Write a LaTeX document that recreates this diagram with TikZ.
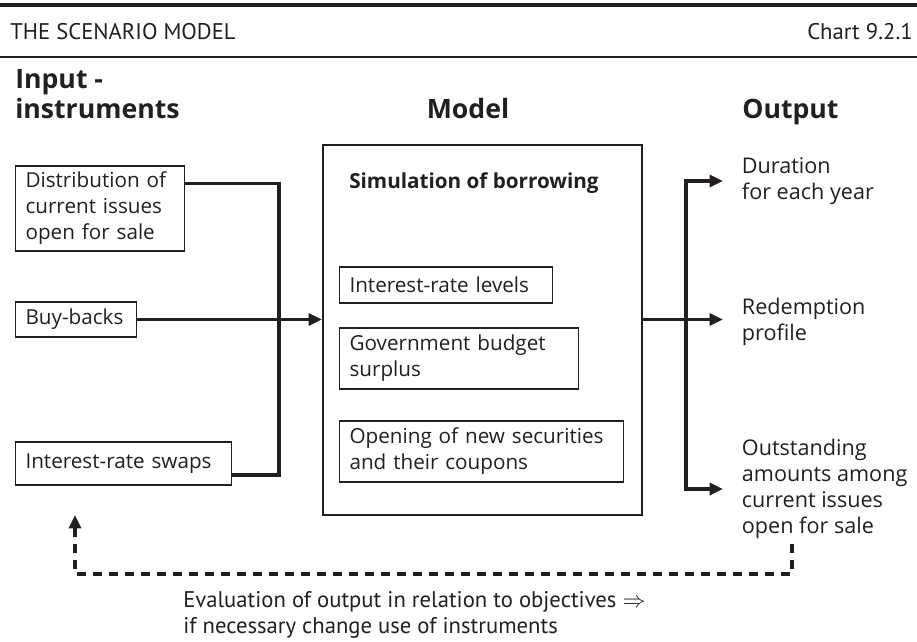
\documentclass[tikz,border=0pt]{standalone}
\usepackage{fontspec}
\setmainfont{Open Sans}
\newfontfamily\condfont{PT Sans}
\usepackage{tikz}
\usetikzlibrary{arrows.meta, positioning, calc}
\definecolor{ink}{HTML}{231F20}
\newcommand\nobreakwords{\hyphenpenalty=10000\relax\exhyphenpenalty=10000\relax}

\begin{document}
\begin{tikzpicture}[x=0.75pt, y=-0.75pt,
  every node/.style={text=ink},
  inbox/.style={rectangle, draw=ink, line width=0.8pt, anchor=west, inner xsep=7.5pt, inner ysep=0pt, align=left,
    font=\fontsize{15.5}{19.5}\selectfont, execute at begin node=\nobreakwords},
  modelbox/.style={rectangle, draw=ink, line width=1.6pt, minimum width=239.25pt, minimum height=277.5pt},
  conn/.style={draw=ink, line width=2.4pt},
  connarrow/.style={conn, -{Triangle[length=10pt,width=9pt]}},
  feedback/.style={draw=ink, line width=2.4pt, dash pattern=on 7pt off 5pt, -{Triangle[length=10pt,width=9pt]}},
  outlbl/.style={anchor=west, inner xsep=14pt, inner ysep=0pt, align=left, font=\fontsize{16.2}{19.5}\selectfont},
  heading/.style={font=\fontsize{20}{22}\selectfont\bfseries, inner sep=0pt, align=left}
]
\useasboundingbox (0,0) rectangle (917,642);

% header
\draw[ink, line width=3pt] (0,5) -- (917,5);
\node[anchor=west, inner sep=0pt, font=\condfont\fontsize{17}{20}\selectfont] (title) at (10,32) {THE SCENARIO MODEL};
\node[anchor=east, inner sep=0pt, font=\condfont\fontsize{17}{20}\selectfont] (chart) at (913,32) {Chart 9.2.1};
\draw[ink, line width=1.5pt] (0,57) -- (917,57);

% column headings
\node[heading, anchor=west] (inputlbl) at (15,94) {Input -\\instruments};
\node[heading, anchor=base] (modellbl) at (468,118) {Model};
\node[heading, anchor=base west] (outputlbl) at (742,118) {Output};

% input instruments
\node[inbox, text width=112pt, minimum height=63.75pt] (distrib) at (15,208.5) {Distribution of\\current issues\\open for sale};
\node[inbox, text width=76pt, minimum height=26.25pt] (buyback) at (15,319.5) {Buy-backs};
\node[inbox, text width=147pt, minimum height=32.25pt] (swaps) at (15,463.5) {Interest-rate swaps};

% model
\node[modelbox] (model) at (482.5,330) {};
\node[anchor=base west, inner sep=0pt, font=\fontsize{15.5}{18}\selectfont\bfseries] (simlbl) at (349,188) {Simulation of borrowing};
\node[inbox, text width=145pt, minimum height=27pt] (levels) at (339,285) {Interest-rate levels};
\node[inbox, text width=164pt, minimum height=45.75pt] (budget) at (339,358.5) {Government budget\\surplus};
\node[inbox, text width=198pt, minimum height=45.75pt] (opening) at (339,451.5) {Opening of new securities\\and their coupons};

% output
\node[outlbl] (dur) at (723,181) {Duration\\for each year};
\node[outlbl] (redem) at (723,322) {Redemption\\profile};
\node[outlbl] (outst) at (723,489) {Outstanding\\amounts among\\current issues\\open for sale};

% connectors
\coordinate (join) at (279,319.5);
\coordinate (split) at (686,319.5);
\draw[conn] ([yshift=19pt]distrib.east) -| (join) |- ([yshift=-8.6pt]swaps.east);
\draw[connarrow] (buyback.east) -- (buyback.east -| model.west);
\draw[conn] (model.east |- split) -- (split);
\draw[connarrow] (split) |- (dur.west);
\draw[connarrow] (split) -- (redem.west |- split);
\draw[connarrow] (split) |- (outst.west);

% feedback loop
\coordinate (fbstart) at (792,544);
\coordinate (fbend) at (75,515);
\draw[feedback] (fbstart) -- ++(0,30) -| (fbend);
\node[anchor=west, inner sep=0pt, align=left, font=\condfont\fontsize{17}{19.5}\selectfont] (evalnote) at (183,615) {Evaluation of output in relation to objectives $\Rightarrow$\\if necessary change use of instruments};
\end{tikzpicture}
\end{document}
